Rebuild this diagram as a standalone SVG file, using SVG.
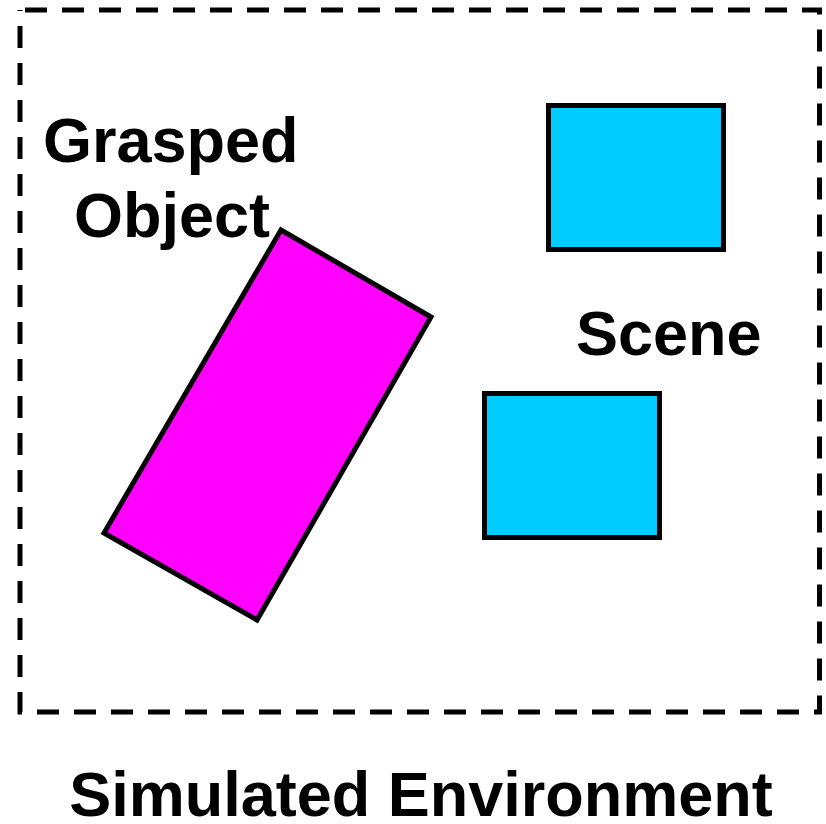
<svg xmlns="http://www.w3.org/2000/svg" width="826" height="824" viewBox="0 0 826 824">
  <style>
    .label { font-family: "Liberation Sans", Arial, sans-serif; font-weight: bold; font-size: 63px; fill: #000; }
    .box { stroke: #000; stroke-width: 5; }
    .scene { fill: #00ccff; }
    .grasped { fill: #ff00ff; }
  </style>
  <rect width="826" height="824" fill="#fff"/>
  <!-- environment boundary -->
  <g id="environment">
    <rect x="20" y="10" width="799.5" height="702" fill="none" stroke="#000" stroke-width="5" stroke-dasharray="22 15" stroke-dashoffset="-5"/>
    <text class="label" x="421" y="816" text-anchor="middle">Simulated Environment</text>
  </g>
  <g id="grasped-object">
    <polygon class="box grasped" points="281,230 431,317 257,620 104,533"/>
    <text class="label" x="43" y="162">Grasped</text>
    <text class="label" x="74" y="237">Object</text>
  </g>
  <g id="scene">
    <rect class="box scene" x="548.5" y="105.5" width="175" height="144"/>
    <rect class="box scene" x="484.5" y="393.5" width="175" height="144"/>
    <text class="label" x="576" y="355">Scene</text>
  </g>
</svg>
